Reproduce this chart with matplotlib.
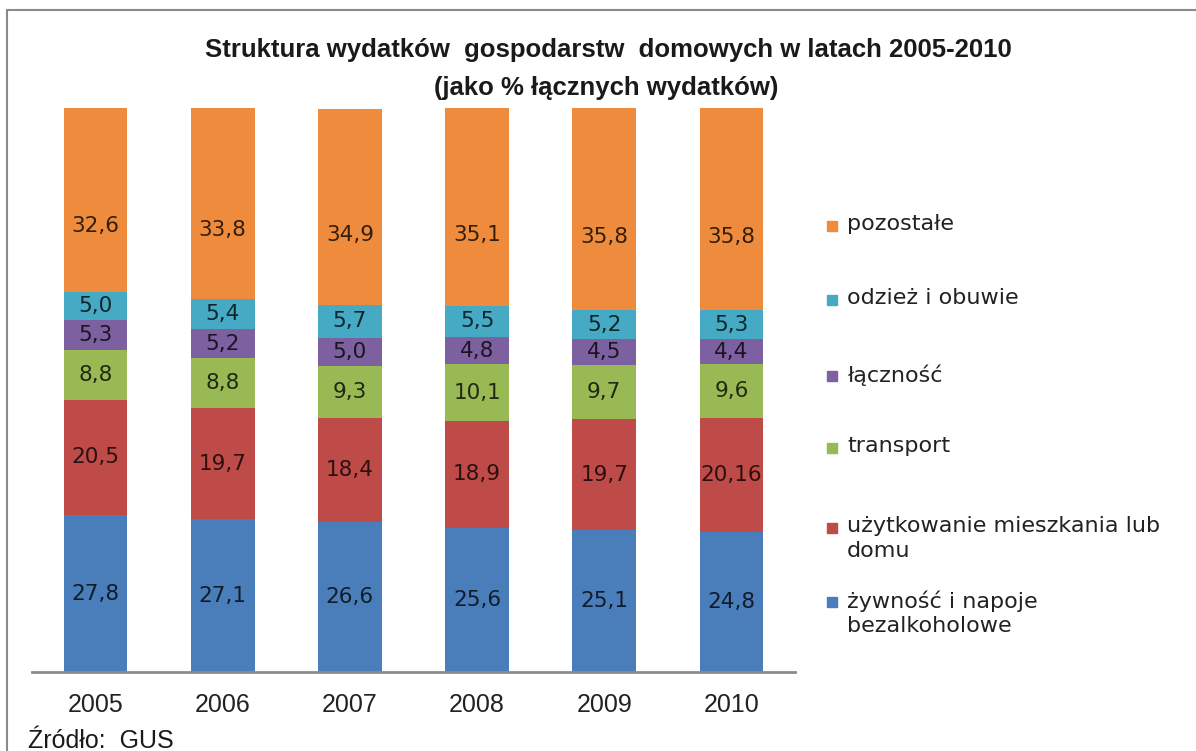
import matplotlib.pyplot as plt
from matplotlib.patches import Rectangle
from matplotlib.colors import to_rgb
import numpy as np

lata = ['2005', '2006', '2007', '2008', '2009', '2010']

# kategorie od dolu do gory
kategorie = ['żywność i napoje\nbezalkoholowe', 'użytkowanie mieszkania lub\ndomu',
             'transport', 'łączność', 'odzież i obuwie', 'pozostałe']
zywnosc = [27.8, 27.1, 26.6, 25.6, 25.1, 24.8]
mieszkanie = [20.5, 19.7, 18.4, 18.9, 19.7, 20.16]
transport = [8.8, 8.8, 9.3, 10.1, 9.7, 9.6]
lacznosc = [5.3, 5.2, 5.0, 4.8, 4.5, 4.4]
odziez = [5.0, 5.4, 5.7, 5.5, 5.2, 5.3]
pozostale = [32.6, 33.8, 34.9, 35.1, 35.8, 35.8]

serie = [zywnosc, mieszkanie, transport, lacznosc, odziez, pozostale]
kolory = ['#4a7ebb', '#be4b48', '#98b954', '#7d60a0', '#46aac5', '#ee8b3c']

W, H = 1196, 751
fig = plt.figure(figsize=(W / 100, H / 100), dpi=100)
plt.rcParams['font.family'] = ['Liberation Sans', 'DejaVu Sans']

ax = fig.add_axes([32 / W, 1 - 672 / H, (795 - 32) / W, (672 - 108) / H])
x = np.arange(len(lata))
dol = np.zeros(len(lata))
for i, (wart, kol) in enumerate(zip(serie, kolory)):
    wart = np.array(wart)
    ax.bar(x, wart, width=0.5, bottom=dol, color=kol, edgecolor='none')
    ciemny = tuple(np.array(to_rgb(kol)) * 0.22)
    for xi, b, v in zip(x, dol, wart):
        # etykiety ostatniej serii sa troche nizej niz srodek
        yy = b + v * (0.36 if i == len(serie) - 1 else 0.5)
        ax.text(xi, yy, str(v).replace('.', ','), ha='center', va='center',
                fontsize=15.5, color=ciemny, family='DejaVu Sans')
    dol += wart

ax.set_xlim(-0.5, len(lata) - 0.5)
ax.set_ylim(0, 100)
ax.set_xticks(x)
ax.set_xticklabels(lata, fontsize=18, color='#222222')
ax.tick_params(axis='x', length=0, pad=15)
ax.set_yticks([])
for s in ['top', 'right', 'left']:
    ax.spines[s].set_visible(False)
ax.spines['bottom'].set_color('#8c8c8c')
ax.spines['bottom'].set_linewidth(2)

fig.text(608 / W, 1 - 50 / H, 'Struktura wydatków  gospodarstw  domowych w latach 2005-2010',
         ha='center', va='center', fontsize=18.5, fontweight='bold', color='#1a1a1a')
fig.text(606 / W, 1 - 88 / H, '(jako % łącznych wydatków)',
         ha='center', va='center', fontsize=18.5, fontweight='bold', color='#1a1a1a')

# legenda (od gory)
leg_y = [226, 300, 376, 448, 528, 602]
for etyk, kol, yp in zip(kategorie[::-1], kolory[::-1], leg_y):
    fig.patches.append(Rectangle((827 / W, 1 - (yp + 5) / H), 10 / W, 10 / H,
                                 transform=fig.transFigure, color=kol))
    fig.text(847 / W, 1 - (yp - 12) / H, etyk, ha='left', va='top', fontsize=16,
             color='#222222', linespacing=1.3, family='DejaVu Sans')

fig.text(28 / W, 1 - 741 / H, 'Źródło:  GUS', ha='left', va='center', fontsize=18,
         color='#1a1a1a')

# ramka
fig.patches.append(Rectangle((7 / W, -0.1), 1.2, 1.1 - 10 / H, transform=fig.transFigure,
                             fill=False, edgecolor='#8a8a8a', linewidth=1.5))

fig.savefig('out.png', dpi=100)
